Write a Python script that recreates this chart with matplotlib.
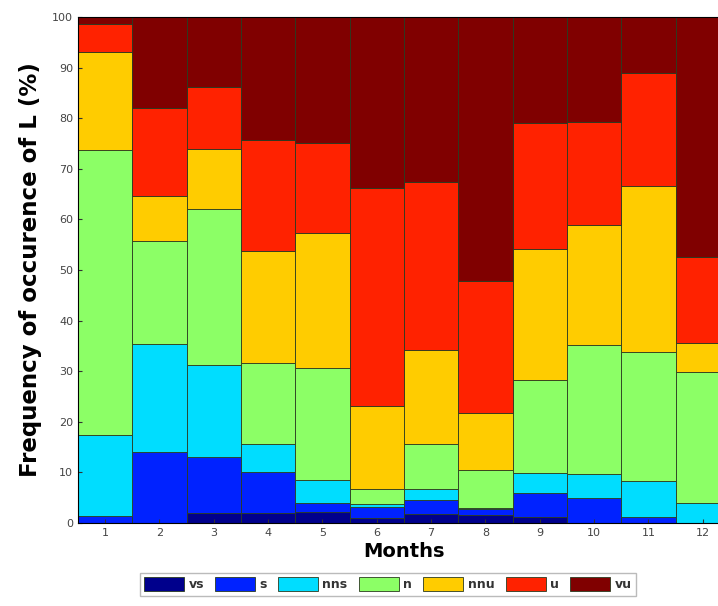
import matplotlib
matplotlib.use("Agg")
import matplotlib.pyplot as plt
import numpy as np

months = [1, 2, 3, 4, 5, 6, 7, 8, 9, 10, 11, 12]
classes = ["vs", "s", "nns", "n", "nnu", "u", "vu"]

# Percentage of occurrence of each stability class per month
vs  = [0.0, 0.0, 1.9, 1.9, 2.2, 0.9, 1.8, 1.5, 1.2, 0.0, 0.0, 0.0]
s   = [1.3, 14.1, 11.1, 8.2, 1.8, 2.2, 2.8, 1.2, 4.7, 4.9, 1.1, 0.0]
nns = [16.1, 21.3, 18.2, 5.6, 4.5, 0.7, 2.1, 0.2, 3.9, 4.8, 7.2, 4.0]
n   = [56.3, 20.4, 30.8, 16.0, 22.2, 3.0, 8.9, 7.6, 18.5, 25.5, 25.4, 25.9]
nnu = [19.4, 8.8, 12.0, 22.1, 26.6, 16.4, 18.6, 11.2, 25.8, 23.7, 32.9, 5.7]
u   = [5.6, 17.4, 12.2, 21.9, 17.7, 43.0, 33.1, 26.2, 25.0, 20.3, 22.3, 17.0]
vu  = [1.3, 18.0, 13.8, 24.3, 25.0, 33.8, 32.7, 52.1, 20.9, 20.8, 11.1, 47.4]

series = [vs, s, nns, n, nnu, u, vu]
colors = ["#00008C", "#0022FF", "#00DDFF", "#8CFF66", "#FFCC00", "#FF2200", "#800000"]

fig = plt.figure(figsize=(7.18, 6.06), dpi=100)
ax = fig.add_axes([0.1086, 0.137, 0.908, 0.835])

bottom = np.zeros(len(months))
handles = []
for vals, col, lab in zip(series, colors, classes):
    vals = np.array(vals)
    b = ax.bar(months, vals, width=1.0, bottom=bottom, color=col,
               edgecolor="#2a3a20", linewidth=0.6, label=lab)
    handles.append(b)
    bottom += vals

ax.set_xlim(0.5, 12.5)
ax.set_ylim(0, 100)
ax.set_xticks(months)
ax.set_yticks(np.arange(0, 101, 10))
ax.tick_params(axis="both", labelsize=8, labelcolor="#444444", direction="in",
               length=3, color="#333333")
ax.set_xlabel("Months", fontsize=14, fontweight="bold", labelpad=3)
ax.set_ylabel("Frequency of occurence of L (%)", fontsize=16.5, fontweight="bold",
              labelpad=7)
for sp in ax.spines.values():
    sp.set_linewidth(0.8)

leg = fig.legend(handles, classes, loc="center", ncol=7,
                 bbox_to_anchor=(0.54, 0.036), fontsize=9,
                 handlelength=3.2, handleheight=1.3, handletextpad=0.35,
                 columnspacing=0.9, frameon=True, fancybox=False,
                 borderpad=0.35, edgecolor="#aaaaaa")
for t in leg.get_texts():
    t.set_fontweight("bold")
    t.set_color("#333333")

fig.savefig("out.png", dpi=100)
